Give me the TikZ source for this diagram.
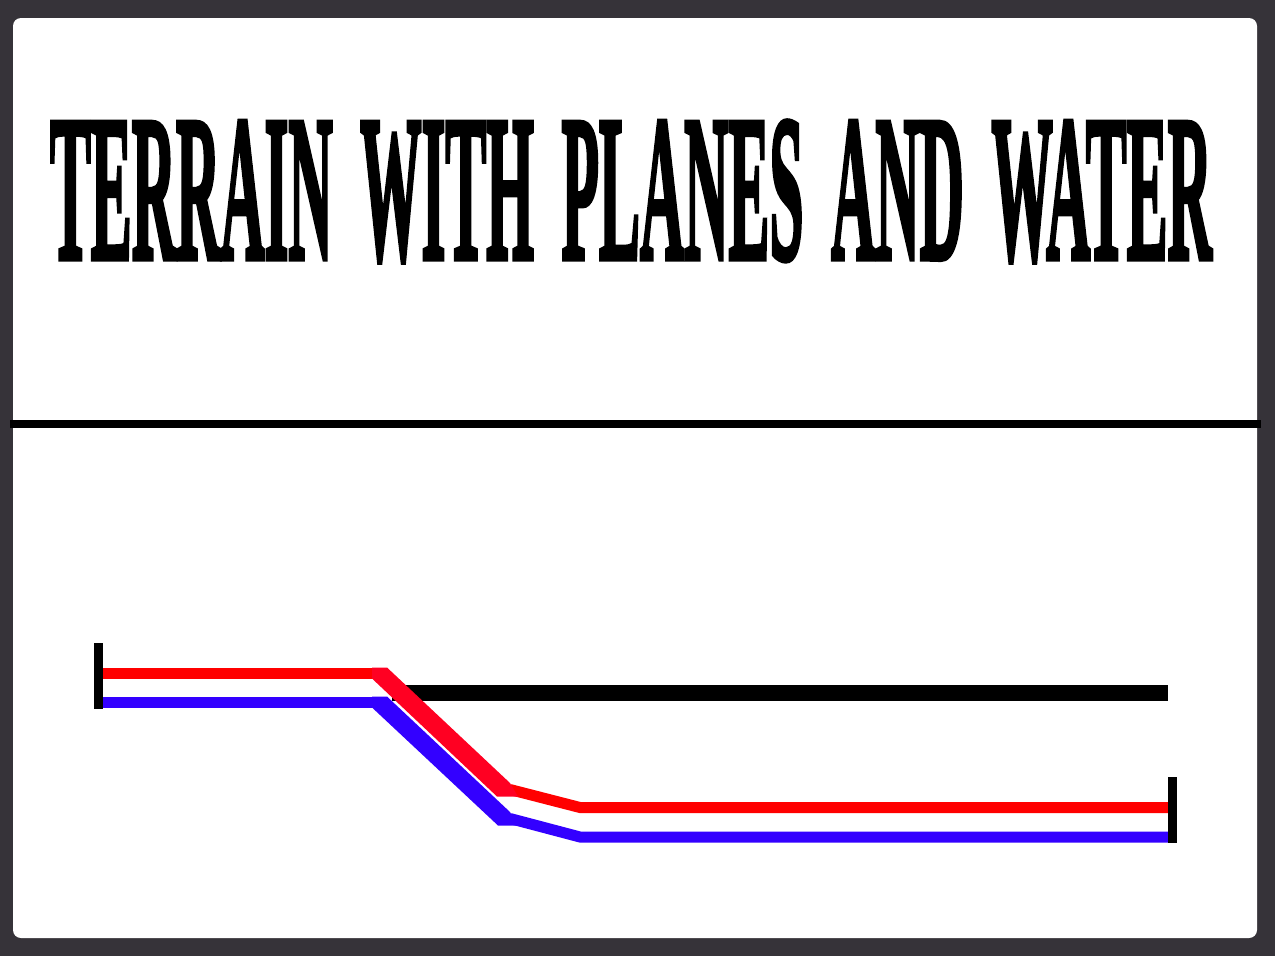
\documentclass[tikz,border=0pt]{standalone}
\usepackage{fontspec}
\usepackage{graphicx}
\newfontfamily\titlefont[FakeBold=3]{Liberation Serif Bold}
\definecolor{bgdark}{RGB}{54,51,57}
\definecolor{redline}{RGB}{255,0,0}
\definecolor{reddiag}{RGB}{255,0,34}
\definecolor{blueline}{RGB}{51,0,255}
\newcommand{\wgap}{\hspace{0.2em}}
\tikzset{
  px/.style={x=1pt,y=-1pt},
  flat/.style={line width=11pt, line join=miter},
  endbar/.style={line width=9pt, black},
  ground/.style={line width=16pt, black},
}
\begin{document}
\begin{tikzpicture}[px]
\fill[bgdark] (0,0) rectangle (1275,956);
\useasboundingbox (0,0) rectangle (1275,956);
\fill[white, rounded corners=8pt] (13,18) rectangle (1257,938);
% title
\node[inner sep=0pt, anchor=center] (title) at (631,191.5)
  {\resizebox{1162pt}{137pt}{\titlefont TERRAIN \wgap WITH \wgap PLANES \wgap AND \wgap WATER}};
% separator
\coordinate (sepL) at (10,423.5);
\coordinate (sepR) at (1261,423.5);
\draw[line width=8pt] (sepL) -- (sepR);
% terrain coordinates
\coordinate (gL) at (392,693);
\coordinate (gR) at (1168,693);
\coordinate (r0) at (103,673);
\coordinate (r1) at (378,673);
\coordinate (r2) at (510,789.5);
\coordinate (r3) at (580,807.5);
\coordinate (r4) at (1170,807.5);
\coordinate (b0) at (103,702);
\coordinate (b1) at (378,702);
\coordinate (b2) at (510,818.5);
\coordinate (b3) at (580,837);
\coordinate (b4) at (1170,837);
\coordinate (lbT) at (98.5,643);
\coordinate (lbB) at (98.5,709);
\coordinate (rbT) at (1172.5,777);
\coordinate (rbB) at (1172.5,843);
% ground plane
\draw[ground] (gL) -- (gR);
% blue line
\draw[flat, blueline] (b0) -- (b1);
\draw[flat, blueline] (b2) -- (b3) -- (b4);
\fill[blueline] (372,696.5) -- (387,696.5) -- (510,812) -- (518,825.5)
  -- (498,825.5) -- (372,707.5) -- cycle;
% red line
\draw[flat, redline] (r0) -- (r1);
\draw[flat, redline] (r2) -- (r3) -- (r4);
\fill[reddiag] (372,667.5) -- (387,667.5) -- (510,783) -- (518,796.5)
  -- (497,796.5) -- (372,678.5) -- cycle;
% end bars
\draw[endbar] (lbT) -- (lbB);
\draw[endbar] (rbT) -- (rbB);
\end{tikzpicture}
\end{document}
